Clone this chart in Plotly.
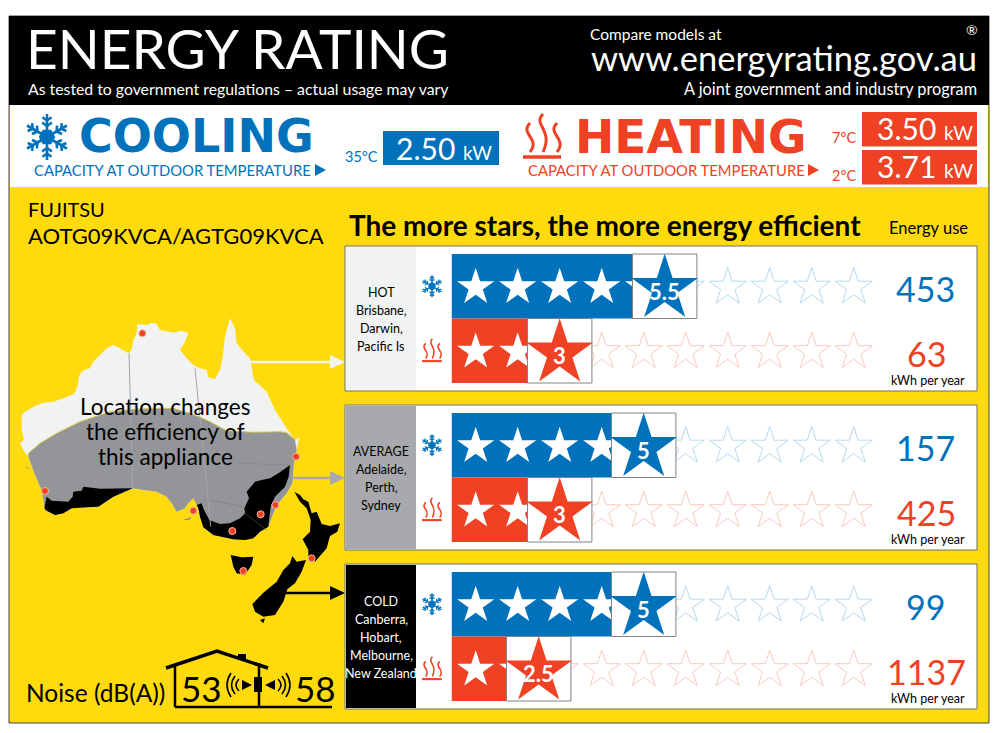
#!/usr/bin/env python3
import math
import plotly.graph_objects as go

BLUE = "#0072bc"
RED = "#ef4123"
YELLOW = "#ffdb0d"
FONT = "Lato"

# ratings and energy use, one entry per climate zone
zones = ["HOT", "AVERAGE", "COLD"]
places = [["Brisbane,", "Darwin,", "Pacific Is"], ["Adelaide,", "Perth,", "Sydney"],
          ["Canberra,", "Hobart,", "Melbourne,", "New Zealand"]]
cooling_stars = [5.5, 5, 5]
heating_stars = [3, 3, 2.5]
cooling_kwh = [453, 157, 99]
heating_kwh = [63, 425, 1137]
star_slots = [1, 2, 3, 4, 5, 6, 7, 8, 9, 10]
noise_in = 53
noise_out = 58
cool_capacity = ["2.50"]
heat_capacity = ["3.50", "3.71"]

coast_south = [(877, 550), (860, 580), (835, 610), (820, 640), (805, 680), (780, 695), (760, 715), (735, 720),
               (700, 718), (670, 712), (640, 705), (610, 682), (600, 650), (595, 625), (580, 595), (565, 610),
               (555, 625), (530, 635), (515, 610), (500, 590), (470, 575), (430, 570), (398, 565), (340, 590),
               (295, 620), (260, 622), (215, 625), (190, 640), (165, 645), (135, 630), (130, 605), (125, 570),
               (105, 525), (85, 470)]
coast_north = [(85, 470), (70, 450), (60, 430), (72, 420), (65, 390), (65, 345), (75, 335), (105, 318), (130, 308),
               (160, 305), (190, 295), (222, 282), (232, 260), (238, 225), (252, 210), (270, 205), (280, 185),
               (300, 165), (320, 145), (340, 135), (360, 145), (385, 160), (395, 150), (400, 120), (410, 100),
               (412, 72), (440, 75), (455, 68), (470, 72), (480, 90), (520, 98), (545, 92), (565, 100), (555, 125),
               (540, 150), (560, 175), (580, 195), (600, 205), (620, 210), (625, 232), (645, 238), (660, 210),
               (668, 170), (675, 110), (690, 55), (705, 85), (710, 130), (735, 160), (750, 175), (762, 240),
               (800, 275), (825, 330), (860, 385), (885, 420), (898, 412), (890, 450), (882, 490)]
climate_line = [(85, 460), (120, 430), (170, 400), (240, 365), (330, 335), (400, 328), (470, 325), (520, 325),
                (570, 340), (620, 360), (680, 392), (760, 397), (840, 395), (860, 398), (885, 420), (890, 450),
                (882, 490)]
cold_sw = [(133, 625), (140, 590), (155, 602), (205, 605), (218, 590), (220, 575), (245, 572), (250, 560), (300, 566),
           (398, 565), (340, 590), (295, 620), (260, 622), (215, 625), (190, 640), (165, 645), (140, 632)]
cold_se = [(590, 615), (605, 610), (612, 630), (628, 660), (660, 672), (690, 670), (720, 655), (735, 640), (733, 625),
           (747, 595), (740, 575), (765, 545), (785, 540), (810, 535), (835, 520), (870, 495), (866, 530), (855, 560),
           (825, 590), (812, 620), (805, 680), (780, 695), (760, 715), (735, 720), (700, 718), (670, 712), (640, 705),
           (610, 682), (600, 650), (595, 625)]
tasmania = [(692, 765), (725, 772), (760, 770), (755, 795), (735, 825), (710, 820), (700, 800)]
nz_north = [(883, 575), (900, 585), (910, 598), (925, 605), (935, 640), (950, 635), (965, 672), (990, 678),
            (1020, 670), (1012, 695), (990, 708), (980, 745), (945, 785), (925, 770), (925, 750), (908, 718),
            (930, 695), (932, 660), (920, 625), (900, 605)]
nz_south = [(877, 768), (890, 785), (918, 780), (905, 815), (885, 850), (862, 868), (850, 905), (825, 945), (790, 950),
            (765, 935), (757, 912), (790, 878), (830, 845), (850, 810), (870, 790)]
stewart = [(780, 960), (795, 955), (790, 970)]
kangaroo = [(548, 660), (575, 650), (568, 660)]
rottnest = [(78, 497), (88, 510), (80, 505)]
city_x = [427, 135, 888, 580, 826, 782, 697, 730, 935]
city_y = [100, 573, 470, 632, 615, 643, 693, 813, 775]

# rating scale: star n sits at pixel 475.7 + (n-1)*42
STAR0 = 475.7
STEP = 42
rating_range = [1 - STAR0 / STEP, 1 + (1000 - STAR0) / STEP]
BAR_START = 0.43
BOX_HALF = 0.767

PANEL_TOP = [246, 405, 564]
PANEL_H = 145
ROW_H = 64.5

fig = go.Figure()
shapes = []
notes = []


def map_x(v):
    return v / 3


def map_y(v):
    return 300 + v / 3


def text(x, y, s, size, color="black", anchor="left", bold=False, family=FONT):
    notes.append(dict(x=x, y=y, xref="x", yref="y", text=s, showarrow=False, xanchor=anchor,
                      yanchor="middle", borderpad=0, borderwidth=0,
                      font=dict(size=size, color=color, family=family,
                                weight="bold" if bold else "normal")))


def rect(x0, y0, x1, y1, fill, line=None, width=1):
    shapes.append(dict(type="rect", x0=x0, y0=y0, x1=x1, y1=y1, xref="x", yref="y", layer="below",
                       fillcolor=fill, line=dict(color=line or fill, width=width if line else 0)))


def path(d, color, width=0, fill=None):
    shapes.append(dict(type="path", path=d, xref="x", yref="y", layer="below",
                       fillcolor=fill or "rgba(0,0,0,0)", line=dict(color=color, width=width)))


def seg(x0, y0, x1, y1, color, width=1):
    shapes.append(dict(type="line", x0=x0, y0=y0, x1=x1, y1=y1, xref="x", yref="y", layer="below",
                       line=dict(color=color, width=width)))


def poly(pts, color):
    path("M " + " L ".join(f"{a},{b}" for a, b in pts) + " Z", color, 0, color)


def snowflake(cx, cy, r, color, width):
    for k in range(6):
        a = math.radians(90 + 60 * k)
        ux, uy = math.cos(a), math.sin(a)
        seg(cx, cy, cx + r * ux, cy + r * uy, color, width)
        for at, ln in ((0.72, 0.24), (0.48, 0.26)):
            px, py = cx + at * r * ux, cy + at * r * uy
            for sign in (-1, 1):
                b = a + sign * math.radians(55)
                seg(px, py, px + ln * r * math.cos(b), py + ln * r * math.sin(b), color, width)
    hexa = [(cx + 0.36 * r * math.cos(math.radians(60 * k)), cy + 0.36 * r * math.sin(math.radians(60 * k)))
            for k in range(6)]
    poly(hexa, color)


def heat_icon(x, top, s, color, width):
    for dx, t0 in ((6, 9), (19, 0), (33, 9)):
        y0 = top + t0 * s
        y1 = top + 38 * s
        xx = x + dx * s
        path(f"M {xx + 1 * s},{y0} C {xx - 10 * s},{y0 + 11 * s} {xx + 12 * s},{y0 + 15 * s} {xx + 1 * s},{y1}",
             color, width)
    seg(x, top + 43 * s, x + 38 * s, top + 43 * s, color, width + 0.5)


def flat(color, pts):
    fig.add_trace(go.Scatter(x=[map_x(p[0]) for p in pts], y=[map_y(p[1]) for p in pts], mode="lines",
                             fill="toself", fillcolor=color, line=dict(width=0, color=color), hoverinfo="skip",
                             xaxis="x", yaxis="y"))


# frame and bands
rect(9, 16, 989, 723, YELLOW, "#444444", 1)
rect(9, 16, 989, 105, "black")
rect(10, 105, 988, 187, "white")

# header
text(26, 48, "ENERGY RATING", 55, "white")
text(28, 88, "As tested to government regulations – actual usage may vary", 15.8, "white")
text(590, 34, "Compare models at", 15.5, "white")
text(977, 57, "www.energyrating.gov.au", 34.5, "white", "right")
text(977, 88, "A joint government and industry program", 16.3, "white", "right")
text(972, 29, "®", 14, "white", "center")

# capacity band
snowflake(47, 137, 23, BLUE, 2.6)
text(79, 136, "COOLING", 46, BLUE, bold=True, family="DejaVu Sans")
text(34, 170, "CAPACITY AT OUTDOOR TEMPERATURE", 14.8, BLUE)
poly([(315, 164), (326, 170), (315, 176)], BLUE)
text(345, 156, "35°C", 14.5, BLUE)
rect(383, 131, 499, 165, BLUE)
text(492, 148, f"{cool_capacity[0]} <span style='font-size:19px'>kW</span>", 30, "white", "right")

heat_icon(523, 114, 1, RED, 3)
text(575, 136, "HEATING", 47, RED, bold=True, family="DejaVu Sans")
text(528, 170, "CAPACITY AT OUTDOOR TEMPERATURE", 14.8, RED)
poly([(808, 164), (819, 170), (808, 176)], RED)
for y_txt, y_box, deg, cap in zip((137, 175), (112, 150), ("7°C", "2°C"), heat_capacity):
    text(832, y_txt, deg, 14.5, RED)
    rect(862, y_box, 977, y_box + 34.5, RED)
    text(973, y_box + 16, f"{cap} <span style='font-size:19px'>kW</span>", 30, "white", "right")

# left column
text(28, 209, "FUJITSU", 20)
text(28, 235, "AOTG09KVCA/AGTG09KVCA", 22)
text(349, 225, "The more stars, the more energy efficient", 28, bold=True)
text(928, 228, "Energy use", 16.5, anchor="center")

# map
flat("#f1f2f2", coast_north + coast_south)
flat("#939598", climate_line + coast_south)
flat("#939598", kangaroo)
flat("#939598", rottnest)
flat("black", cold_sw)
flat("black", cold_se)
flat("black", tasmania)
flat("black", nz_north)
flat("black", nz_south)
flat("black", stewart)
fig.add_trace(go.Scatter(x=[map_x(p[0]) for p in climate_line[:15]], y=[map_y(p[1]) for p in climate_line[:15]],
                         mode="lines", line=dict(color="#d9c64a", width=1), hoverinfo="skip", xaxis="x", yaxis="y"))
fig.add_trace(go.Scatter(x=[map_x(v) for v in city_x], y=[map_y(v) for v in city_y], mode="markers",
                         hoverinfo="skip", xaxis="x", yaxis="y",
                         marker=dict(color=RED, size=7, line=dict(color="#f5b5a5", width=1))))
for pts, col, w in (
    (((387, 160), (398, 565)), "#a3a5a8", 1),
    (((585, 205), (632, 680)), "#a3a5a8", 1),
    (((632, 600), (735, 622)), "#7f8184", 0.8),
    (((715, 490), (870, 495)), "#7f8184", 0.5),
    (((735, 640), (800, 690)), "#555555", 0.6),
):
    fig.add_trace(go.Scatter(x=[map_x(p[0]) for p in pts], y=[map_y(p[1]) for p in pts], mode="lines",
                             line=dict(color=col, width=w), hoverinfo="skip", xaxis="x", yaxis="y"))
text(165, 406, "Location changes", 22.5, anchor="center")
text(165, 431, "the efficiency of", 22.5, anchor="center")
text(165, 456, "this appliance", 22.5, anchor="center")

# arrows from the map to the panels
for x0, y0, col, w in ((250, 362, "#f1f2f2", 2.5), (292, 478, "#a7a9ac", 2.5), (283, 593, "black", 2.5)):
    seg(x0, y0, 332, y0, col, w)
    poly([(330, y0 - 7), (345, y0), (330, y0 + 7)], col)

# noise
text(26, 692, "Noise (dB(A))", 24.5)
path("M 166,668 L 217,651 L 268,668", "black", 3.5)
seg(175, 666, 175, 707, "black", 2.5)
seg(175, 707, 332, 707, "black", 2.5)
seg(259, 663, 259, 707, "black", 2.5)
rect(238, 654, 246, 659, "black")
rect(254, 677, 262, 692, "black")
poly([(242, 680), (242, 690), (252, 685)], "black")
poly([(275, 680), (275, 690), (265, 685)], "black")
for dx, h in ((0, 6), (4, 9), (8, 12)):
    path(f"M {239 - dx},{685 - h} Q {235 - dx - h / 3},685 {239 - dx},{685 + h}", "black", 1.6)
    path(f"M {278 + dx},{685 - h} Q {282 + dx + h / 3},685 {278 + dx},{685 + h}", "black", 1.6)
text(201, 688, str(noise_in), 35, anchor="center")
text(315, 688, str(noise_out), 35, anchor="center")

# zone panels
cool_rows = []
heat_rows = []
for i, top in enumerate(PANEL_TOP):
    rect(345, top, 977, top + PANEL_H, "white", "#6d6e71", 1)
    rect(346, top + 1, 416, top + PANEL_H - 1, ["#f1f2f2", "#a7a9ac", "black"][i])
    lines = [zones[i]] + places[i]
    col = "white" if i == 2 else "black"
    mid = top + PANEL_H / 2 + 1
    for k, line in enumerate(lines):
        text(381, mid + (k - (len(lines) - 1) / 2) * 18.2, line, 12.5, col, "center")
    cool_y = top + 8 + ROW_H / 2
    heat_y = cool_y + ROW_H
    cool_rows.append(cool_y)
    heat_rows.append(heat_y)
    snowflake(432, cool_y, 11, BLUE, 1.4)
    heat_icon(422, heat_y - 12, 0.52, RED, 1.6)
    text(925, cool_y + 2, str(cooling_kwh[i]), 34, BLUE, "center")
    text(926, heat_y + 3, str(heating_kwh[i]), 34, RED, "center")
    text(928, top + 134, "kWh per year", 12.5, anchor="center")

rows = cool_rows + heat_rows
ratings = cooling_stars + heating_stars
colors = [BLUE] * 3 + [RED] * 3
pale = ["#b5d9ef"] * 3 + ["#fac9bf"] * 3

# layer 1: empty stars, behind the bars
for y, p in zip(rows, pale):
    fig.add_trace(go.Scatter(x=star_slots, y=[y + 1] * len(star_slots), mode="markers", xaxis="x2", yaxis="y2",
                             hoverinfo="skip",
                             marker=dict(symbol="star-open", size=28, color=p, line=dict(color=p, width=1))))

# layer 2: filled bars and white stars
for y, r, c in zip(rows, ratings, colors):
    fig.add_trace(go.Bar(x=[r - BOX_HALF - BAR_START], base=[BAR_START], y=[y], width=ROW_H, orientation="h",
                         xaxis="x3", yaxis="y3", marker=dict(color=c, line=dict(width=0)), hoverinfo="skip"))
    whole = [n for n in star_slots if n < r]
    fig.add_trace(go.Scatter(x=whole, y=[y + 1] * len(whole), mode="markers", xaxis="x3", yaxis="y3",
                             hoverinfo="skip", marker=dict(symbol="star", size=28, color="white")))

# layer 3: boxed rating star
for y, r, c in zip(rows, ratings, colors):
    fig.add_trace(go.Bar(x=[2 * BOX_HALF], base=[r - BOX_HALF], y=[y], width=ROW_H, orientation="h",
                         xaxis="x4", yaxis="y4", hoverinfo="skip",
                         marker=dict(color="white", line=dict(color="#808285", width=1))))
    fig.add_trace(go.Scatter(x=[r], y=[y + 2.5], mode="markers", xaxis="x4", yaxis="y4", hoverinfo="skip",
                             marker=dict(symbol="star", size=50, color=c)))
    notes.append(dict(x=r, y=y + 5, xref="x4", yref="y4", text=f"{r:g}", showarrow=False, yanchor="middle",
                      font=dict(size=22, color="white", family=FONT, weight="bold")))

axis = dict(visible=False, fixedrange=True)
layout_axes = dict(
    xaxis=dict(range=[0, 1000], domain=[0, 1], **axis),
    yaxis=dict(range=[733, 0], domain=[0, 1], **axis),
)
for n in (2, 3, 4):
    layout_axes[f"xaxis{n}"] = dict(range=rating_range, overlaying="x", **axis)
    layout_axes[f"yaxis{n}"] = dict(range=[733, 0], overlaying="y", **axis)

fig.update_layout(width=1000, height=733, margin=dict(l=0, r=0, t=0, b=0), showlegend=False,
                  paper_bgcolor="white", plot_bgcolor="rgba(0,0,0,0)", barmode="overlay",
                  shapes=shapes, annotations=notes, **layout_axes)
fig.write_html("out.html", config={"displayModeBar": False}, post_script="document.body.style.margin='0';")
